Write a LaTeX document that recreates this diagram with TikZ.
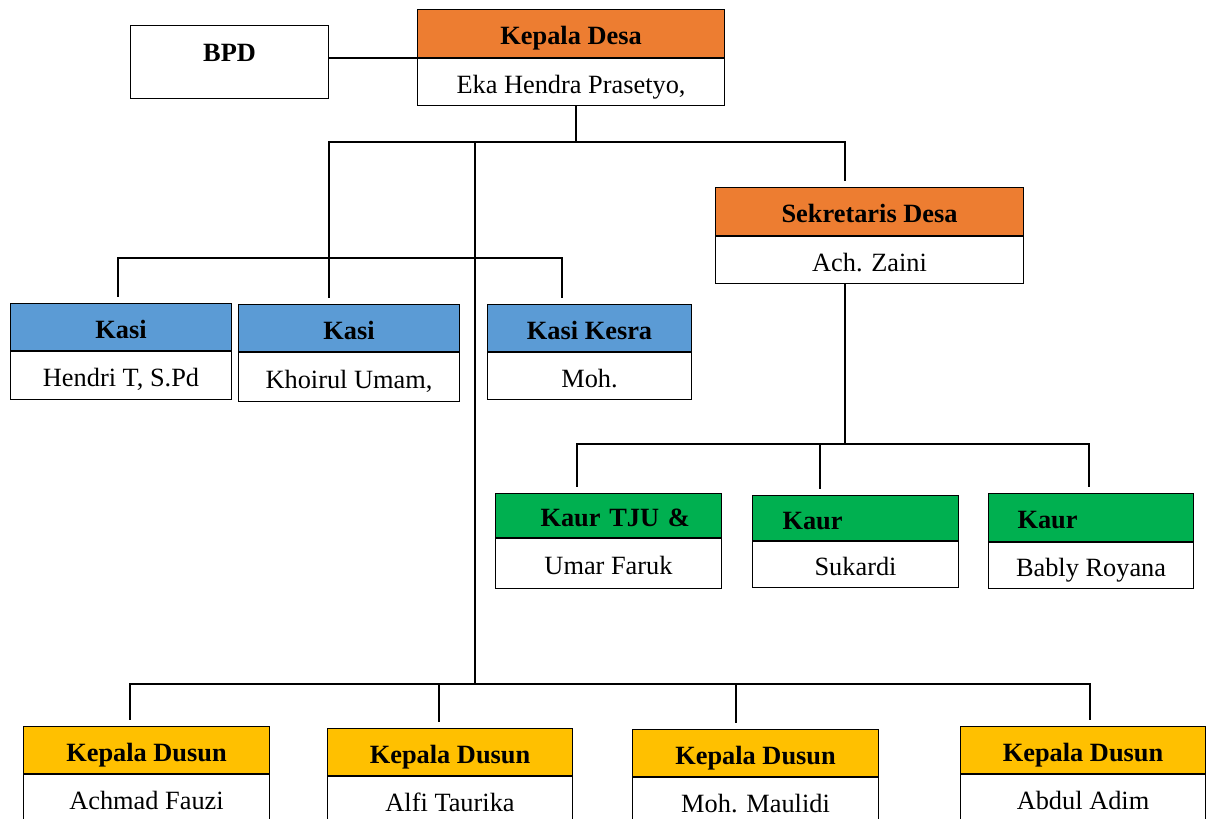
\documentclass[tikz,border=0pt]{standalone}
\usepackage{fontspec}
\setmainfont{Liberation Serif}
\definecolor{oren}{HTML}{ED7D31}
\definecolor{biru}{HTML}{5B9BD5}
\definecolor{hijau}{HTML}{00B050}
\definecolor{emas}{HTML}{FFC000}
\begin{document}
\begin{tikzpicture}[x=0.02cm, y=-0.02cm,
 every node/.style = {font=\fontsize{15}{18}\selectfont},
 wh/.style args = {#1/#2}{minimum width=#1*0.02cm, minimum height=#2*0.02cm},
 hd/.style = {draw, line width=0.6pt, fill=#1, anchor=north west, inner sep=0pt, text height=0.5cm, text depth=0.06cm, font=\fontsize{15}{18}\selectfont\bfseries},
 bd/.style = {draw, line width=0.6pt, fill=white, anchor=north west, inner sep=0pt, text height=0.5cm, text depth=0.06cm},
 kiri/.style args = {#1/#2}{inner xsep=0pt, text width=#2, align=left, execute at begin node={\hspace*{#1}}},
 conn/.style = {draw, line width=1.1pt, line cap=rect},
 turun/.style = {conn, shorten >=4pt}]

\clip (0,0) rectangle (1212,818);

\node(bpd) [bd, wh=198/73, font=\fontsize{15}{18}\selectfont\bfseries, text height=0.35cm, text depth=0.38cm] at (130,25) {BPD};

\node(kdjab) [hd=oren, wh=307/48] at (417,9) {Kepala Desa};
\node(kdnama) [bd, wh=307/47] at (kdjab.south west) {Eka Hendra Prasetyo,};

\node(skjab) [hd=oren, wh=308/48] at (715,187) {Sekretaris Desa};
\node(sknama) [bd, wh=308/47] at (skjab.south west) {Ach. Zaini};

\node(kasi1jab) [hd=biru, wh=221/47] at (10,303) {Kasi};
\node(kasi1nama) [bd, wh=221/48] at (kasi1jab.south west) {Hendri T, S.Pd};

\node(kasi2jab) [hd=biru, wh=221/47] at (238,304) {Kasi};
\node(kasi2nama) [bd, wh=221/49] at (kasi2jab.south west) {Khoirul Umam,};

\node(kasi3jab) [hd=biru, wh=204/47] at (487,304) {Kasi Kesra};
\node(kasi3nama) [bd, wh=204/47] at (kasi3jab.south west) {Moh.};

\node(kaur1jab) [hd=hijau, wh=226/44, kiri=0.9cm/4.52cm] at (495,493) {Kaur TJU \&};
\node(kaur1nama) [bd, wh=226/50] at (kaur1jab.south west) {Umar Faruk};

\node(kaur2jab) [hd=hijau, wh=206/45, kiri=0.6cm/4.12cm] at (752,495) {Kaur};
\node(kaur2nama) [bd, wh=206/46] at (kaur2jab.south west) {Sukardi};

\node(kaur3jab) [hd=hijau, wh=205/48, kiri=0.58cm/4.10cm] at (988,493) {Kaur};
\node(kaur3nama) [bd, wh=205/46] at (kaur3jab.south west) {Bably Royana};

\node(dus1jab) [hd=emas, wh=246/47] at (23,726) {Kepala Dusun};
\node(dus1nama) [bd, wh=246/47] at (dus1jab.south west) {Achmad Fauzi};

\node(dus2jab) [hd=emas, wh=245/47] at (327,728) {Kepala Dusun};
\node(dus2nama) [bd, wh=245/47] at (dus2jab.south west) {Alfi Taurika};

\node(dus3jab) [hd=emas, wh=246/47] at (632,729) {Kepala Dusun};
\node(dus3nama) [bd, wh=246/47] at (dus3jab.south west) {Moh. Maulidi};

\node(dus4jab) [hd=emas, wh=245/47] at (960,726) {Kepala Dusun};
\node(dus4nama) [bd, wh=245/47] at (dus4jab.south west) {Abdul Adim};
%
\coordinate (j0) at (576,142);
\coordinate (jl) at (329,142);
\coordinate (jt) at (475,142);
\coordinate (jr) at (845,142);
\coordinate (ka) at (118,258);
\coordinate (kc) at (562,258);
\coordinate (sx) at (845,444);
\coordinate (ul) at (577,444);
\coordinate (um) at (820,444);
\coordinate (ur) at (1089,444);
\coordinate (dl) at (130,684);
\coordinate (d2) at (439,684);
\coordinate (d3) at (736,684);
\coordinate (dr) at (1090,684);
\coordinate (dt) at (475,684);
%
\draw[conn] (bpd.east |- kdjab.south west) -- (kdjab.south west);
\draw[conn] (kdnama.south -| j0) -- (j0);
\draw[turun] (jl) -- (jr) -- (skjab.north -| jr);
\draw[turun] (jl) -- (kasi2jab.north -| jl);
\draw[turun] (ka) -- (kasi1jab.north -| ka);
\draw[turun] (ka) -- (kc) -- (kasi3jab.north -| kc);
\draw[conn] (jt) -- (dt);
\draw[conn] (sknama.south -| sx) -- (sx);
\draw[turun] (ul) -- (kaur1jab.north -| ul);
\draw[turun] (ul) -- (ur) -- (kaur3jab.north -| ur);
\draw[turun] (um) -- (kaur2jab.north -| um);
\draw[turun] (dl) -- (dus1jab.north -| dl);
\draw[turun] (dl) -- (dr) -- (dus4jab.north -| dr);
\draw[turun] (d2) -- (dus2jab.north -| d2);
\draw[turun] (d3) -- (dus3jab.north -| d3);

\end{tikzpicture}
\end{document}
